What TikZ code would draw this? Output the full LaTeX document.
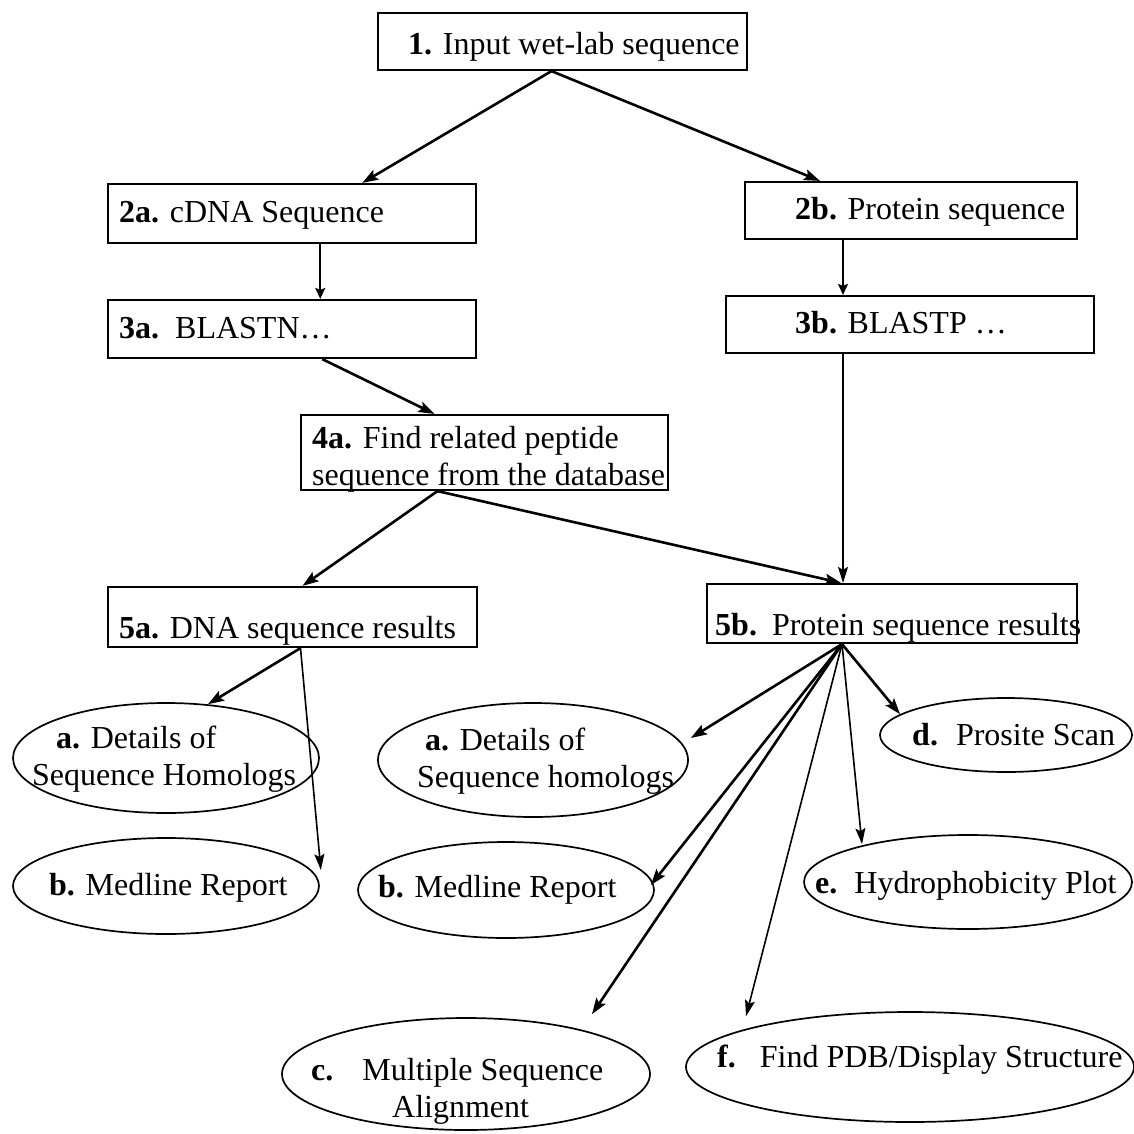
\documentclass[tikz,border=0pt]{standalone}
\usepackage{fontspec}
\setmainfont{Liberation Serif}
\usepackage{tikz}
\usetikzlibrary{shapes.geometric,arrows.meta,calc}

\begin{document}
\begin{tikzpicture}[x=1pt,y=1pt,yscale=-1,xscale=1,
        font=\fontsize{32}{37}\selectfont,
        box/.style={draw, line width=2.2pt, inner sep=0pt},
        oval/.style={draw, ellipse, line width=1.7pt, inner sep=0pt},
        lbl/.style={anchor=base west, inner sep=0pt, align=left},
        arr/.style={line width=2.6pt, -{Stealth[length=16pt,width=11pt,inset=3pt]}},
        thinarr/.style={line width=1.6pt, -{Stealth[length=16pt,width=10pt,inset=3pt]}},
        stub/.style={line width=1.6pt, -{Stealth[length=11pt,width=10pt,inset=2pt]}}]
        \useasboundingbox (0,0) rectangle (1134,1134);

        % boxes
        \node[box, minimum width=369pt, minimum height=57pt] (s1) at (562.5,41.5) {};
        \node[box, minimum width=368pt, minimum height=59pt] (s2a) at (292.25,213.5) {};
        \node[box, minimum width=332pt, minimum height=57pt] (s2b) at (911,210.5) {};
        \node[box, minimum width=368pt, minimum height=58pt] (s3a) at (292.25,329) {};
        \node[box, minimum width=368pt, minimum height=57pt] (s3b) at (910,324.5) {};
        \node[box, minimum width=367pt, minimum height=75pt] (s4a) at (484.5,452.5) {};
        \node[box, minimum width=369pt, minimum height=60pt] (s5a) at (292.5,617) {};
        \node[box, minimum width=370pt, minimum height=59pt] (s5b) at (892,613.5) {};

        \node[lbl] (t1) at (408,55) {\textbf{1.} Input wet-lab sequence};
        \node[lbl] (t2a) at (119,222) {\textbf{2a.} cDNA Sequence};
        \node[lbl] (t2b) at (795,219) {\textbf{2b.} Protein sequence};
        \node[lbl] (t3a) at (119,338) {\textbf{3a.}\hspace{16pt}BLASTN\dots};
        \node[lbl] (t3b) at (795,333) {\textbf{3b.} BLASTP \dots};
        \node[lbl] (t4a) at (312,485) {\textbf{4a.} Find related peptide\\sequence from the database};
        \node[lbl] (t5a) at (119,638) {\textbf{5a.} DNA sequence results};
        \node[lbl] (t5b) at (715,635) {\textbf{5b.}\hspace{15pt}Protein sequence results};

        % result ovals
        \node[oval, minimum width=306pt, minimum height=110pt] (la) at (166,758) {};
        \node[oval, minimum width=306pt, minimum height=96pt] (lb) at (166,886) {};
        \node[oval, minimum width=310pt, minimum height=114pt] (ma) at (533,760) {};
        \node[oval, minimum width=296pt, minimum height=96pt] (mb) at (506,890) {};
        \node[oval, minimum width=368pt, minimum height=112pt] (c) at (466,1074) {};
        \node[oval, minimum width=252pt, minimum height=74pt] (d) at (1006,735) {};
        \node[oval, minimum width=328pt, minimum height=94pt] (e) at (968,882) {};
        \node[oval, minimum width=448pt, minimum height=110pt] (f) at (910,1067) {};

        \node[lbl] (tla) at (32,785) {\hspace*{24pt}\textbf{a.} Details of\\Sequence Homologs};
        \node[lbl] (tlb) at (49,895) {\textbf{b.} Medline Report};
        \node[lbl] (tma) at (417,787) {\hspace*{8pt}\textbf{a.} Details of\\Sequence homologs};
        \node[lbl] (tmb) at (378,897) {\textbf{b.} Medline Report};
        \node[lbl] (tc) at (311,1117) {\textbf{c.}\hspace{29pt}Multiple Sequence\\\hspace*{81pt}Alignment};
        \node[lbl] (td) at (912,745) {\textbf{d.}\hspace{18pt}Prosite Scan};
        \node[lbl] (te) at (815,893) {\textbf{e.}\hspace{17pt}Hydrophobicity Plot};
        \node[lbl] (tf) at (717,1067) {\textbf{f.}\hspace{24pt}Find PDB/Display Structure};

        % connectors
        \coordinate (top) at ($(s1.south)+(-11,0)$);
        \coordinate (mid) at ($(s4a.south)+(-47,0)$);
        \coordinate (dna) at ($(s5a.south)+(8,0)$);
        \coordinate (fan) at ($(s5b.south)+(-50,0)$);

        \draw[arr] (top) -- ($(s2a.north)+(70,0)$);
        \draw[arr] (top) -- ($(s2b.north)+(-91,0)$);
        \draw[stub] ($(s2a.south)+(28,0)$) -- ($(s3a.north)+(28,0)$);
        \draw[stub] ($(s2b.south)+(-68,0)$) -- ($(s3b.north)+(-67,0)$);
        \draw[arr] ($(s3a.south)+(30,0)$) -- ($(s4a.north)+(-50,0)$);
        \draw[thinarr] ($(s3b.south)+(-67,0)$) -- ($(s5b.north)+(-49,0)$);
        \draw[arr] (mid) -- ($(s5a.north)+(10,0)$);
        \draw[arr] (mid) -- ($(s5b.north)+(-51,0)$);

        \draw[arr] (dna) -- ($(la.north)+(42,2)$);
        \draw[thinarr] (dna) -- ($(lb.east)+(1,-16)$);

        \draw[arr] (fan) -- ($(ma.east)+(2,-22)$);
        \draw[arr] (fan) -- ($(mb.east)+(-4,-5)$);
        \draw[arr] (fan) -- ($(c.north)+(126,-3)$);
        \draw[thinarr] (fan) -- ($(f.north)+(-164,5)$);
        \draw[thinarr] (fan) -- ($(e.north)+(-106,10)$);
        \draw[arr] (fan) -- ($(d.north)+(-106,17)$);
\end{tikzpicture}
\end{document}
